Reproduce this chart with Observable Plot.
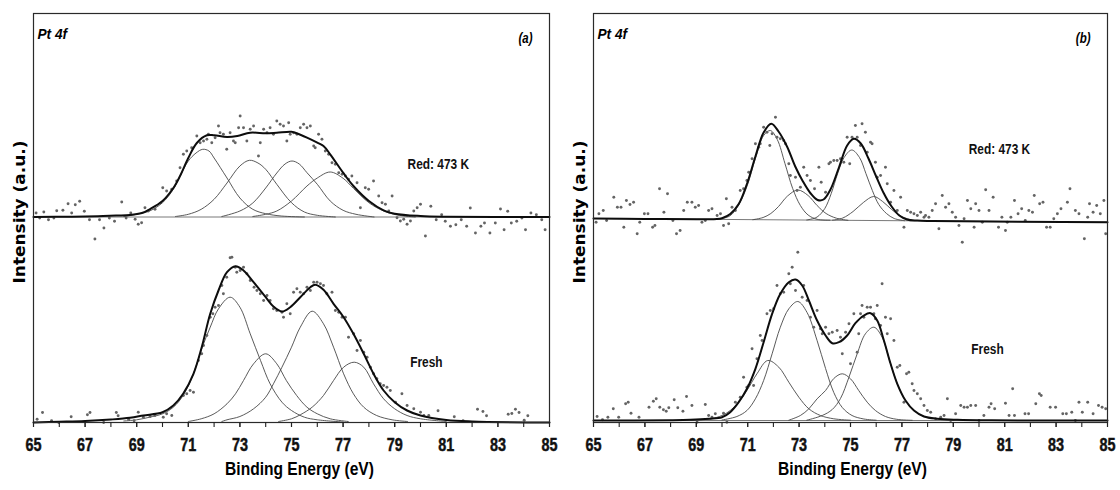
<!DOCTYPE html>
<html><head><meta charset="utf-8">
<script src="https://cdn.jsdelivr.net/npm/d3@7"></script>
<script src="https://cdn.jsdelivr.net/npm/@observablehq/plot@0.6"></script>
<style>
html,body{margin:0;padding:0;background:#fff;}
#wrap{position:relative;width:1120px;height:490px;overflow:hidden;}
#pa,#pb{position:absolute;top:0;}
#pa{left:0}#pb{left:560px}
</style></head><body><div id="wrap"><div id="pa"></div><div id="pb"></div></div>
<script>
// ---------- axis / text values ----------
const energyTicks = [65,66,67,68,69,70,71,72,73,74,75,76,77,78,79,80,81,82,83,84,85];
const energyLabels = [65,67,69,71,73,75,77,79,81,83,85];
const regionName = ["Pt 4f"];
const panelTags = ["(a)", "(b)"];
const sampleNames = ["Red: 473 K", "Fresh"];
const xTitle = ["Binding Energy (eV)"];
const yTitle = ["Intensity (a.u.)"];
// label anchor (binding energy, intensity) for each sample name
const labelEnergyA = [79.5, 79.6], labelIntensityA = [258, 60.5];
const labelEnergyB = [79.6, 79.7], labelIntensityB = [273, 73];

// vertical offsets of the stacked spectra (intensity units)
const offsetARed = 205.5, offsetAFresh = 0, offsetBRed = 204, offsetBFresh = 2;

// ---------- panel (a), Red: 473 K ----------
const aRedBaseline = [[65,0],[85,0]];
const aRedEnvelope = [[65,0],[66.5,0.3],[67.5,0.8],[68.2,1.5],[68.74,2],[69.2,4],[69.5,7.7],[70,16],[70.42,29],[70.68,41],[71,59],[71.33,74],[71.72,81.7],[72,81.7],[72.5,80],[72.9,81],[73.4,84.3],[74,83.7],[74.43,84.3],[75,85.3],[75.2,83.7],[75.6,79.3],[76,74.3],[76.24,71],[76.5,62.7],[77,44.3],[77.4,31],[78,16],[78.57,6.7],[79,3.3],[80,1],[81,0.3],[85,0]];
const aRedPeak1 = [[68.5,0.5],[69,2.7],[69.5,6],[70,14.3],[70.42,27.7],[70.68,41],[71,56],[71.3,64],[71.56,67.7],[71.8,66],[72,59],[72.5,39],[73,19],[73.5,7.7],[74,3.3],[74.6,1],[75.5,0]];
const aRedPeak2 = [[70.5,0.5],[71,2.7],[71.5,7.7],[72,17.7],[72.5,34],[73,51],[73.37,56.7],[73.7,54],[74,47.7],[74.43,32.7],[75,14.3],[75.5,5],[76,1.7],[76.7,0]];
const aRedPeak3 = [[72.3,0.5],[73,6],[73.5,14],[74,29],[74.43,44],[74.75,53],[75.02,56],[75.3,53],[75.6,44.3],[76,32.7],[76.5,16],[77,6.7],[77.5,2.7],[78.2,0]];
const aRedPeak4 = [[73.5,0.5],[74,2.7],[74.43,6],[75,16],[75.6,31],[76,39],[76.5,45],[77,38.7],[77.4,28.7],[78,14.3],[78.57,6],[79.1,2],[79.8,0]];
const aRedPoints = [[65.1,4],[65.24,-1],[65.4,5],[65.58,-2.7],[65.79,-1],[65.9,6.3],[66.14,6.7],[66.34,13.3],[66.48,4],[66.62,12.3],[66.79,15.7],[66.97,5.7],[67.17,-2.7],[67.38,-22],[67.56,-2.7],[67.73,-11],[67.94,-1],[68.14,-4.3],[68.42,15],[68.59,-1],[68.77,4],
[68.94,-2.3],[69.06,-7.3],[69.19,-5.7],[69.32,9.3],[69.45,6],[69.71,7.7],[70.01,29.3],[70.16,26],[70.36,27.7],[70.55,36],[70.68,49.3],[70.81,62.7],[70.94,66],[71.13,69.3],[71.33,81],[71.46,74.3],[71.59,76],[71.72,77.7],[71.78,82.7],[71.91,74.3],[72.04,79.3],[72.17,91],[72.23,84.3],[72.36,82.7],[72.49,67.7],[72.62,84.3],[72.75,76],[72.82,74.3],[72.95,89.3],[73.01,101],[73.14,89.3],[73.27,76],[73.4,87.7],[73.53,91],[73.72,61],[73.79,74.3],[73.92,87.7],[74.05,84.3],[74.17,89.3],[74.3,82.7],[74.43,96],[74.56,92.7],[74.69,91],[74.82,76],[74.89,94.3],[74.95,82.7],[75.08,84.3],[75.21,82.7],[75.34,89.3],[75.47,92.7],[75.6,89.3],[75.73,91],[75.86,71],[75.92,69.3],[76.05,82.7],[76.18,77.7],[76.31,66],[76.44,62.7],[76.57,54.3],[76.7,52.7],[76.83,44.3],[76.96,42.7],[77.09,41],[77.21,37.7],[77.34,41],[77.54,34.3],[77.67,9.3],[77.86,29.3],[77.99,27.7],[78.18,36],[78.38,21],[78.51,14.3],[78.64,12.7],[78.77,6],[78.9,21],[79.09,-0.7],[79.22,-4],[79.35,-2.3],[79.48,-7.3],[79.61,-4],[79.74,6],[79.87,9.3],[80.0,12.7],[80.19,-19],
[80.4,10.7],[80.61,-2.7],[80.82,2.3],[80.96,-4.3],[81.16,-9.3],[81.37,-7.7],[81.58,-2.7],[81.79,-9.3],[81.93,9],[82.13,-16],[82.34,-9.3],[82.48,-6],[82.69,-16],[82.9,-6],[83.1,8],[83.24,-12.7],[83.38,5.7],[83.52,-6],[83.73,-4.3],[83.93,-1],[84.07,-12.7],[84.28,4],[84.49,2.3],[84.7,-2.7],[84.83,-12.7]];

// ---------- panel (a), Fresh ----------
const aFreshBaseline = [[65,0],[85,0]];
const aFreshEnvelope = [[65,0],[66,0.7],[67,1.5],[68,3],[68.74,4.7],[69.26,7],[70,10.3],[70.42,17],[70.8,28.7],[71.2,48.7],[71.52,75.3],[71.85,108.7],[72.17,132],[72.5,150.3],[72.83,156.3],[73.14,152],[73.53,140.3],[74,125.3],[74.3,116],[74.63,111],[74.95,115.3],[75.34,125.3],[75.73,135.3],[75.92,137.7],[76.24,132.7],[76.63,118.7],[77.02,105.3],[77.4,88.7],[77.8,68.7],[78.18,48.7],[78.57,32],[79,20.3],[79.48,12],[80,7],[81,2.5],[82,1],[85,0]];
const aFreshPeak1 = [[68.5,1.5],[69,2.7],[69.5,5.3],[70,8.7],[70.42,15.3],[70.8,27],[71.2,48.7],[71.52,73.7],[71.85,95.3],[72.17,113.7],[72.62,125.3],[73,115.3],[73.4,88.7],[73.8,62],[74.17,38.7],[74.63,20.3],[75,12],[75.5,5.3],[76,2.7],[77,0.5]];
const aFreshPeak2 = [[71,1],[71.5,3.7],[72,8.7],[72.5,18.7],[72.83,28.7],[73.14,42],[73.53,58.7],[74,68.7],[74.43,58.7],[74.8,42],[75.2,27],[75.6,15.3],[76,8.7],[76.5,3.7],[77.2,1]];
const aFreshPeak3 = [[72.3,1],[72.5,2.7],[73,6],[73.53,13.7],[74,25.3],[74.3,38.7],[74.63,55.3],[75,75.3],[75.34,95.3],[75.8,111.3],[76.24,98.7],[76.63,75.3],[77.02,48.7],[77.4,28.7],[77.8,15.3],[78.3,7],[78.9,2.7],[79.5,1]];
const aFreshPeak4 = [[74.5,1],[75,3.7],[75.34,7.7],[75.8,15.3],[76.24,27],[76.63,42],[77.02,55.3],[77.43,60.3],[77.8,55.3],[78.18,38.7],[78.57,23.7],[79,13.7],[79.48,7],[80,3.7],[81,1]];
const aFreshPoints = [[65.14,3.3],[65.35,10],[65.7,1.7],[65.98,0],[66.46,5.7],[67.09,7.7],[67.19,10],[67.72,0],[68.21,10],[68.28,6.7],[68.69,3.3],[68.9,1.7],
[69.06,10.3],[69.26,5.3],[69.52,6],[69.71,7],[70.03,5.3],[70.16,8.7],[70.36,7],[70.81,27],[70.94,28.7],[71.07,32],[71.2,30.3],[71.39,62],[71.52,68.7],[71.59,77],[71.72,87],[71.85,105.3],[71.95,108.7],[72.04,115.3],[72.17,117],[72.3,137],[72.36,128.7],[72.49,145.3],[72.62,164.7],[72.69,165.3],[72.82,155.3],[72.88,150.3],[73.01,152],[73.14,155.3],[73.27,148.7],[73.4,142],[73.55,135.3],[73.66,132],[73.79,128.7],[73.92,122],[74.05,127],[74.17,122],[74.3,113.7],[74.43,112],[74.63,110.3],[74.69,105.3],[74.82,118.7],[74.95,108.7],[75.08,130.3],[75.21,133.7],[75.34,130.3],[75.47,128.7],[75.6,135.3],[75.73,132],[75.86,140.3],[75.99,140.3],[76.12,138.7],[76.24,137],[76.37,128.7],[76.57,130.3],[76.7,112],[76.83,110.3],[76.96,105.3],[77.09,105.3],[77.21,85.3],[77.41,88.7],[77.54,72],[77.67,82],[77.8,70.3],[77.93,65.3],[78.06,55.3],[78.18,48.7],[78.31,43.7],[78.44,38.7],[78.57,37],[78.7,35.3],[78.83,32],[79.03,20.3],[79.28,28.7],[79.48,17],[79.74,13.7],[80.0,10.3],[80.13,7],[80.32,7],
[80.68,11.7],[81.31,5.7],[81.65,1.7],[82.21,13.3],[82.42,11],[82.56,6.7],[83.4,8.3],[83.54,9],[83.68,13.3],[83.82,10],[84.02,2.3],[84.16,6.7]];

// ---------- panel (b), Red: 473 K ----------
const bRedBaseline = [[65,0],[85,-3.7]];
const bRedEnvelope = [[65,0],[67,-0.4],[69,-0.7],[69.8,-0.6],[70.0,0.3],[70.32,4.5],[70.65,14.5],[70.97,34.5],[71.3,62],[71.62,86],[71.92,94.7],[72.2,87],[72.53,72],[72.85,52],[73.15,37],[73.45,25],[73.72,18.5],[73.95,19],[74.22,29],[74.55,51],[74.87,73],[75.13,79.7],[75.4,75],[75.7,60],[76.0,42],[76.3,25],[76.6,12],[76.9,3],[77.2,-1],[77.6,-2.1],[78.2,-2.45],[85,-3.7]];
const bRedPeak1 = [[69.8,-0.9],[70.3,2.5],[70.65,13.5],[70.97,32],[71.3,60],[71.62,83],[71.88,88],[72.15,79],[72.45,55],[72.75,30],[73.05,13],[73.35,3.5],[73.7,-0.8],[74.2,-1.7]];
const bRedPeak2 = [[71.2,-1.2],[71.6,1],[71.9,5],[72.2,12],[72.55,22.5],[72.95,28.5],[73.35,23],[73.7,13],[74.05,5],[74.45,0.3],[74.9,-1.8]];
const bRedPeak3 = [[73.3,-1.5],[73.7,1.5],[74.0,10],[74.25,25],[74.5,45],[74.75,61],[75.05,68.5],[75.35,61],[75.6,45],[75.85,28],[76.1,14],[76.4,5],[76.7,0],[77.1,-2.2]];
const bRedPeak4 = [[74.3,-1.7],[74.7,0.5],[75.1,7],[75.5,16],[75.9,22],[76.25,17],[76.6,9],[76.95,2.5],[77.4,-1.8]];
const bRedPoints = [[65.1,-3.7],[65.21,4.7],[65.38,8],[65.51,-2],[65.79,21.3],[65.93,11.3],[66.07,11.3],[66.18,-8.7],[66.28,18],[66.42,14],[66.56,16.3],[66.7,-15.3],[66.8,-3.7],[66.98,4.7],[67.12,4.7],[67.3,-8.7],[67.39,-7],[67.57,29.7],[67.74,6.3],[67.88,24.7],[68.09,-2],[68.23,-15.3],[68.37,-12],[68.51,8],[68.65,16.3],
[68.83,16.3],[68.96,11.3],[69.09,13],[69.22,-3.7],[69.35,-2],[69.48,8],[69.61,9.7],[69.81,3],[69.94,4.7],[70.06,-7],[70.17,19.7],[70.26,-5.3],[70.39,11.3],[70.52,8],[70.71,28],[70.84,29.7],[70.97,38],[71.04,46.3],[71.17,59.7],[71.3,74.7],[71.43,71.3],[71.49,74.7],[71.62,91.3],[71.75,86.3],[71.86,73],[71.95,84.7],[72.08,101.3],[72.14,81.3],[72.27,79.7],[72.4,78],[72.47,74.7],[72.6,54.7],[72.66,43],[72.86,41.3],[72.92,28],[73.05,31.3],[73.18,51.3],[73.31,43],[73.44,38],[73.6,29.7],[73.77,51.3],[73.86,36.3],[74.03,26.3],[74.16,54.7],[74.22,56.3],[74.35,58],[74.48,58],[74.61,59.7],[74.74,56.3],[74.87,81.3],[74.97,54.7],[75.06,81.3],[75.19,93],[75.26,81.3],[75.39,73],[75.45,94.7],[75.58,86.3],[75.65,66.3],[75.78,76.3],[75.84,74.7],[75.97,56.3],[76.04,41.3],[76.17,43],[76.36,51.3],[76.43,34.7],[76.56,16.3],[76.69,28],[76.82,8],[76.95,21.3],[77.08,-8.7],[77.21,8],[77.34,6.3],[77.47,4.7],[77.6,3],[77.73,6.3],[77.86,1.3],[77.92,3],[78.05,1.3],[78.18,8],[78.31,14.7],[78.44,-10.3],[78.57,23],[78.7,11.3],[78.83,14.7],[78.96,6.3],[79.09,1.3],[79.22,-7],[79.35,-23.7],[79.42,-0.3],[79.55,18],[79.68,9.7],[79.81,-8.7],[79.87,14.7],[80.0,8],[80.13,-3.7],[80.26,28.7],[80.39,8],
[80.55,21.3],[80.76,-8.7],[80.89,1.3],[81.03,-12],[81.1,-3.7],[81.24,1.3],[81.38,18],[81.52,4.7],[81.66,9.7],[81.8,-2],[81.94,8],[82.08,6.3],[82.15,23],[82.36,14.7],[82.49,16.3],[82.63,-8.7],[82.77,-8.7],[82.91,-0.3],[83.05,4.7],[83.19,9.7],[83.44,16.3],[83.54,29.7],[83.75,8],[83.89,4.7],[84.1,-20.3],[84.23,1.3],[84.3,14.7],[84.44,6.3],[84.58,13],[84.72,4.7],[84.86,18],[84.93,-15.3]];

// ---------- panel (b), Fresh ----------
const bFreshBaseline = [[65,0],[85,0]];
const bFreshEnvelope = [[65,0],[68,0.3],[68.77,0.7],[69.5,1.8],[70,3.3],[70.32,8.3],[70.65,18.3],[70.97,31.7],[71.3,51.7],[71.62,78.3],[71.95,106.7],[72.27,126.7],[72.6,138.3],[72.86,141],[73.12,135],[73.38,120],[73.7,100],[74.03,85],[74.29,77.3],[74.55,78.3],[74.87,85],[75.19,97.3],[75.52,105],[75.78,107.3],[76.04,100],[76.3,80],[76.56,56.7],[76.82,36.7],[77.14,20],[77.47,10],[77.86,4],[78.38,1.7],[79.16,0.7],[80.5,0.2],[85,0]];
const bFreshPeak1 = [[68.8,0.5],[69.55,1.7],[70,5],[70.32,10],[70.65,18.3],[70.97,30],[71.36,46.7],[71.78,60],[72.21,53.3],[72.6,38.3],[72.99,23.3],[73.38,11.7],[73.83,5],[74.35,1.7],[75,0.3]];
const bFreshPeak2 = [[70,0.5],[70.58,4],[70.97,10],[71.3,21.7],[71.62,40],[71.95,66.7],[72.27,93.3],[72.6,111.7],[72.95,119],[73.31,108],[73.7,80],[74.03,52],[74.35,28],[74.68,13],[75.06,5],[75.52,1.5],[76,0.3]];
const bFreshPeak3 = [[72.6,0.3],[73.05,5],[73.38,11.7],[73.7,21.7],[74.03,30],[74.35,42],[74.68,46.7],[75,41.7],[75.32,30],[75.65,18.3],[75.97,10],[76.36,4],[76.8,1.2],[77.4,0.2]];
const bFreshPeak4 = [[73.3,0.3],[73.9,5],[74.29,11],[74.61,22],[74.94,43.3],[75.26,66.7],[75.58,86.7],[75.91,93.3],[76.23,83.3],[76.56,56.7],[76.82,36.7],[77.14,20],[77.47,10],[77.86,4],[78.38,1.7],[79,0.3]];
const bFreshPoints = [[65.14,4],[65.35,0.7],[65.56,3.3],[65.77,11.7],[65.98,3.3],[66.25,16.7],[66.35,18.3],[66.46,7.3],[66.77,3.3],[67.16,13.3],[67.33,19.3],[67.44,21.7],[67.58,13.3],[67.72,10.7],[67.83,9.3],[67.93,12.7],[68.14,20.7],[68.28,12.7],[68.48,9.3],[68.62,24],
[68.83,15],[69.03,-1.7],[69.35,16],[69.48,5],[69.61,3.3],[69.74,6.7],[70.06,7.3],[70.19,-1.7],[70.52,18.3],[70.71,23.3],[70.84,43.3],[70.97,33.3],[71.04,35],[71.17,71.7],[71.23,35],[71.36,61.7],[71.49,85],[71.56,80],[71.75,106.7],[71.88,110],[72.01,111.7],[72.14,135],[72.27,126.7],[72.4,128.3],[72.6,146.7],[72.66,136.7],[72.73,153.3],[72.86,130],[72.95,168.3],[73.12,123.3],[73.18,135],[73.31,120],[73.44,103.3],[73.57,93.3],[73.7,110],[73.83,91.7],[73.9,86.7],[74.03,93.3],[74.16,86.7],[74.29,88.3],[74.48,90],[74.61,83.3],[74.68,66.7],[74.81,88.3],[74.94,96.7],[75.0,56.7],[75.13,106.7],[75.26,68.3],[75.32,86.7],[75.39,106.7],[75.45,115],[75.52,103.3],[75.65,113.3],[75.78,113.3],[75.91,106.7],[75.97,101.7],[76.04,115],[76.17,95],[76.23,136.7],[76.36,103.3],[76.43,86.7],[76.56,101.7],[76.69,80],[76.82,53.3],[76.92,55],[77.08,18.3],[77.18,46.7],[77.27,48.3],[77.4,36.7],[77.47,30],[77.6,26.7],[77.73,21.7],[77.86,15],[77.99,10],[78.12,8.3],[78.31,1.7],[78.51,3.3],[78.64,5],[78.77,21.7],[78.9,0],[79.09,6.7],[79.29,15],[79.42,13.3],[79.55,13.3],[79.68,15],[79.87,15],[80.0,0],[80.19,5],[80.39,13.3],
[80.47,16.7],[80.61,11.7],[81.03,17.3],[81.17,5],[81.31,31.7],[81.38,5],[81.79,6.7],[81.93,6.7],[82.21,16.7],[82.35,26.7],[82.42,25],[82.77,13.3],[82.98,13.3],[83.26,6.7],[83.4,6.7],[83.61,8.3],[83.75,0],[83.89,18.3],[84.02,8.3],[84.23,18.3],[84.44,6.7],[84.65,15],[84.79,13.3],[84.93,11.7]];

// ---------- drawing ----------
const sans = "'Liberation Sans',Arial,Helvetica,sans-serif";
const wide = "'DejaVu Sans',Verdana,sans-serif";

function spectrumMarks(points, envelope, peaks, baseline, offset) {
  const X = d => d[0], Y = d => d[1] + offset;
  return [
    Plot.line(baseline, {x: X, y: Y, stroke: "#6a6a6a", strokeWidth: 0.9}),
    ...peaks.map(p => Plot.line(p, {x: X, y: Y, curve: "catmull-rom", stroke: "#474747", strokeWidth: 0.9})),
    Plot.dot(points, {x: X, y: Y, r: 1.45, fill: "#646464", stroke: "none"}),
    Plot.line(envelope, {x: X, y: Y, curve: "catmull-rom", stroke: "#0d0d0d", strokeWidth: 2})
  ];
}

function panel({tag, spectra, labelEnergy, labelIntensity, marginRight, titleDx}) {
  return Plot.plot({
    width: 560, height: 490,
    marginLeft: 33, marginRight, marginTop: 13, marginBottom: 68,
    x: {domain: [65, 85]},
    y: {domain: [0, 409], axis: null},
    style: {fontFamily: sans, fontWeight: "bold", background: "white", color: "#000", overflow: "visible"},
    marks: [
      ...spectra.flatMap(s => spectrumMarks(...s)),
      Plot.frame({stroke: "#2a2a2a", strokeWidth: 1.2}),
      Plot.axisX(energyTicks, {tickSize: 5, tickFormat: () => "", stroke: "#222", strokeWidth: 1.1, label: null}),
      Plot.axisX(energyLabels, {tickSize: 5, tickPadding: 11, fontSize: 17.5, fontWeight: "bold", fontFamily: sans, stroke: "#222", strokeWidth: 1.1, fill: "#111", label: null}),
      Plot.text(regionName, {frameAnchor: "top-left", text: d => d, dx: 4, dy: 14, textAnchor: "start", fontSize: 15.5, fontWeight: "bold", fontStyle: "italic", fontFamily: sans, fill: "#000"}),
      Plot.text([tag], {frameAnchor: "top-right", text: d => d, dx: -17, dy: 20, textAnchor: "end", fontSize: 14, fontStyle: "italic", fontWeight: "bold", fontFamily: sans, fill: "#000"}),
      Plot.text(sampleNames, {x: (d, i) => labelEnergy[i], y: (d, i) => labelIntensity[i], text: d => d, textAnchor: "start", fontSize: 14.5, fontWeight: "bold", fontFamily: sans, fill: "#111"}),
      Plot.text(xTitle, {frameAnchor: "bottom", text: d => d, dx: titleDx, dy: 52, fontSize: 19, fontWeight: "bold", fontFamily: sans, fill: "#000"}),
      Plot.text(yTitle, {frameAnchor: "left", text: d => d, rotate: -90, textAnchor: "middle", dx: -14, dy: -6, fontSize: 16, fontWeight: "bold", fontFamily: wide, fill: "#000"})
    ]
  });
}

// the source figure's lettering is horizontally condensed: compress text in place
function condense(svg) {
  svg.querySelectorAll("text").forEach(t => {
    t.setAttribute("font-weight", "bold");
    const natural = t.getComputedTextLength();
    if (!natural) return;
    const s = t.textContent;
    const target = s === yTitle[0] ? 143 : natural * (s === regionName[0] ? 0.88 : 0.82);
    t.setAttribute("textLength", target.toFixed(1));
    t.setAttribute("lengthAdjust", "spacingAndGlyphs");
    if (/^\d+$/.test(s)) { // heavier tick numerals, as in the source
      t.setAttribute("stroke", "#111");
      t.setAttribute("stroke-width", "0.45");
    }
  });
}

const svgA = panel({
  tag: panelTags[0], marginRight: 11, titleDx: 8,
  labelEnergy: labelEnergyA, labelIntensity: labelIntensityA,
  spectra: [
    [aRedPoints, aRedEnvelope, [aRedPeak1, aRedPeak2, aRedPeak3, aRedPeak4], aRedBaseline, offsetARed],
    [aFreshPoints, aFreshEnvelope, [aFreshPeak1, aFreshPeak2, aFreshPeak3, aFreshPeak4], aFreshBaseline, offsetAFresh]
  ]
});
const svgB = panel({
  tag: panelTags[1], marginRight: 13, titleDx: 2,
  labelEnergy: labelEnergyB, labelIntensity: labelIntensityB,
  spectra: [
    [bRedPoints, bRedEnvelope, [bRedPeak1, bRedPeak2, bRedPeak3, bRedPeak4], bRedBaseline, offsetBRed],
    [bFreshPoints, bFreshEnvelope, [bFreshPeak1, bFreshPeak2, bFreshPeak3, bFreshPeak4], bFreshBaseline, offsetBFresh]
  ]
});
document.getElementById("pa").append(svgA);
document.getElementById("pb").append(svgB);
condense(svgA);
condense(svgB);
</script></body></html>
